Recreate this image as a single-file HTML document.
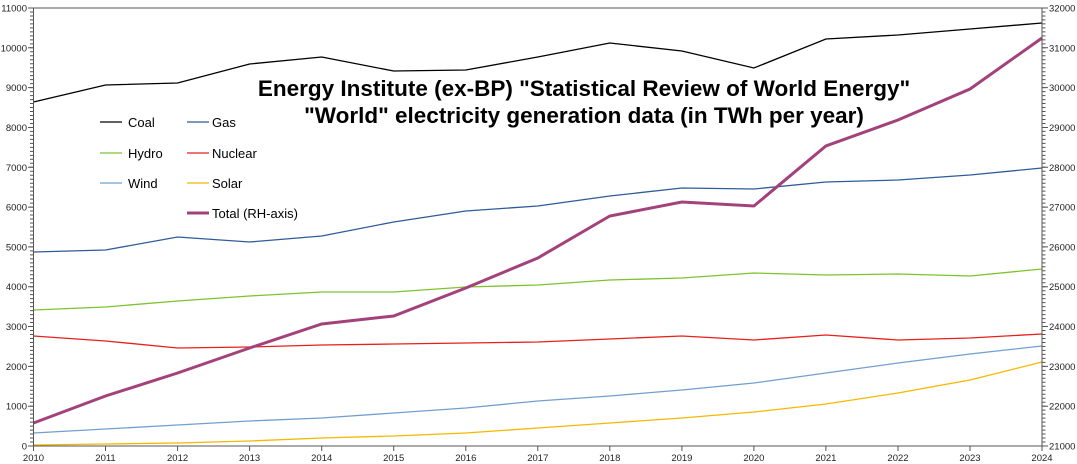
<!DOCTYPE html>
<html><head><style>body{margin:0;background:#fff}svg{display:block;font-family:"Liberation Sans",sans-serif}</style></head><body>
<svg width="1077" height="464" xmlns="http://www.w3.org/2000/svg">
<rect width="1077" height="464" fill="#fff"/>
<g stroke="#555" stroke-width="1">
<line x1="31.5" y1="446.5" x2="31.5" y2="8" stroke-width="3" stroke-dasharray="1 2.982"/>
<line x1="1044" y1="446.5" x2="1044" y2="8" stroke-width="3" stroke-dasharray="1 2.982"/>
<path d="M28 446H34M28 406.2H34M28 366.4H34M28 326.5H34M28 286.7H34M28 246.9H34M28 207.1H34M28 167.3H34M28 127.5H34M28 87.6H34M28 47.8H34M28 8H34"/>
<path d="M1042 446H1048M1042 406.2H1048M1042 366.4H1048M1042 326.5H1048M1042 286.7H1048M1042 246.9H1048M1042 207.1H1048M1042 167.3H1048M1042 127.5H1048M1042 87.6H1048M1042 47.8H1048M1042 8H1048"/>
<path d="M33.5 446V451M105.5 446V451M177.6 446V451M249.6 446V451M321.7 446V451M393.7 446V451M465.8 446V451M537.8 446V451M609.8 446V451M681.9 446V451M753.9 446V451M825.9 446V451M898 446V451M970 446V451M1042 446V451"/>
</g>
<g font-size="9.5" fill="#222" text-anchor="end">
<text x="27" y="449.5">0</text><text x="27" y="409.7">1000</text><text x="27" y="369.9">2000</text><text x="27" y="330">3000</text><text x="27" y="290.2">4000</text><text x="27" y="250.4">5000</text><text x="27" y="210.6">6000</text><text x="27" y="170.8">7000</text><text x="27" y="131">8000</text><text x="27" y="91.1">9000</text><text x="27" y="51.3">10000</text><text x="27" y="11.5">11000</text>
</g>
<g font-size="9.5" fill="#222">
<text x="1049" y="449.5">21000</text><text x="1049" y="409.7">22000</text><text x="1049" y="369.9">23000</text><text x="1049" y="330">24000</text><text x="1049" y="290.2">25000</text><text x="1049" y="250.4">26000</text><text x="1049" y="210.6">27000</text><text x="1049" y="170.8">28000</text><text x="1049" y="131">29000</text><text x="1049" y="91.1">30000</text><text x="1049" y="51.3">31000</text><text x="1049" y="11.5">32000</text>
</g>
<g font-size="9.5" fill="#222" text-anchor="middle">
<text x="33.5" y="461">2010</text><text x="105.5" y="461">2011</text><text x="177.6" y="461">2012</text><text x="249.6" y="461">2013</text><text x="321.7" y="461">2014</text><text x="393.7" y="461">2015</text><text x="465.8" y="461">2016</text><text x="537.8" y="461">2017</text><text x="609.8" y="461">2018</text><text x="681.9" y="461">2019</text><text x="753.9" y="461">2020</text><text x="825.9" y="461">2021</text><text x="898" y="461">2022</text><text x="970" y="461">2023</text><text x="1042" y="461">2024</text>
</g>
<g fill="none" stroke-width="1.3">
<polyline stroke="#000" points="33.5,102 105.5,85 177.6,83 249.6,64 321.7,57 393.7,71 465.8,70 537.8,57 609.8,43 681.9,51 753.9,68 825.9,39 898,35 970,29 1042,23"/>
<polyline stroke="#2e5b9a" points="33.5,252 105.5,250 177.6,237 249.6,242 321.7,236 393.7,222 465.8,211 537.8,206 609.8,196 681.9,188 753.9,189 825.9,182 898,180 970,175 1042,168"/>
<polyline stroke="#7ec32c" points="33.5,310 105.5,307 177.6,301 249.6,296 321.7,292 393.7,292 465.8,287 537.8,285 609.8,280 681.9,278 753.9,273 825.9,275 898,274 970,276 1042,269"/>
<polyline stroke="#e8201c" points="33.5,336 105.5,341 177.6,348 249.6,347 321.7,345 393.7,344 465.8,343 537.8,342 609.8,339 681.9,336 753.9,340 825.9,335 898,340 970,338 1042,334"/>
<polyline stroke="#729fcf" points="33.5,433 105.5,429 177.6,425 249.6,421 321.7,418 393.7,413 465.8,408 537.8,401 609.8,396 681.9,390 753.9,383 825.9,373 898,363 970,354 1042,346"/>
<polyline stroke="#f5b800" points="33.5,445 105.5,444 177.6,443 249.6,441 321.7,438 393.7,436 465.8,433 537.8,428 609.8,423 681.9,418 753.9,412 825.9,404 898,393 970,380 1042,362"/>
<polyline stroke="#a3427a" stroke-width="3" points="33.5,423 105.5,396 177.6,373 249.6,348 321.7,324 393.7,316 465.8,288 537.8,258 609.8,216 681.9,202 753.9,206 825.9,146 898,120 970,89 1042,38"/>
</g>
<rect x="33.5" y="8" width="1008.5" height="438" fill="none" stroke="#555"/>
<g font-size="13" fill="#000" stroke-width="1.3">
<line x1="100" y1="122" x2="122" y2="122" stroke="#000"/><text x="128" y="127">Coal</text>
<line x1="187" y1="122" x2="209" y2="122" stroke="#2e5b9a"/><text x="212" y="127">Gas</text>
<line x1="100" y1="153" x2="122" y2="153" stroke="#7ec32c"/><text x="128" y="158">Hydro</text>
<line x1="187" y1="153" x2="209" y2="153" stroke="#e8201c"/><text x="212" y="158">Nuclear</text>
<line x1="100" y1="183" x2="122" y2="183" stroke="#729fcf"/><text x="128" y="188">Wind</text>
<line x1="187" y1="183" x2="209" y2="183" stroke="#f5b800"/><text x="212" y="188">Solar</text>
<line x1="187" y1="213" x2="209" y2="213" stroke="#a3427a" stroke-width="3"/><text x="212" y="218">Total (RH-axis)</text>
</g>
<g font-size="22.5" font-weight="bold" text-anchor="middle" fill="#000">
<text x="584" y="96">Energy Institute (ex-BP) "Statistical Review of World Energy"</text>
<text x="584" y="123">"World" electricity generation data (in TWh per year)</text>
</g>
</svg>
</body></html>
